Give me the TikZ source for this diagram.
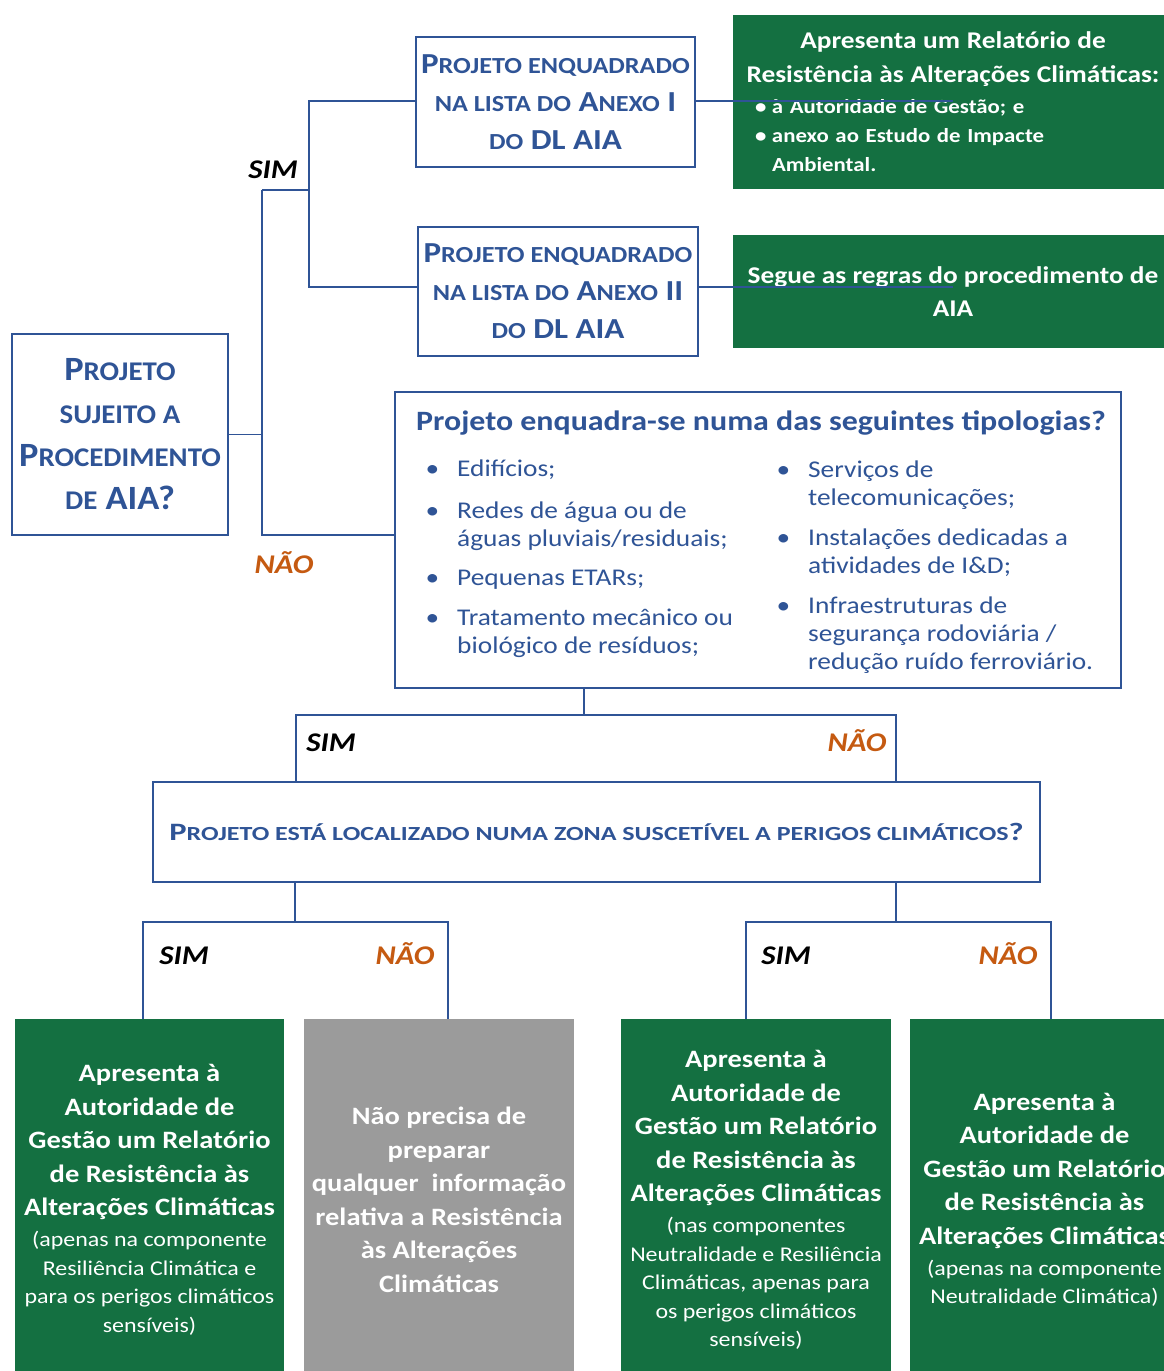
\documentclass[tikz,border=0pt]{standalone}
\usepackage{fontspec}
\setmainfont{Carlito}[FakeStretch=1.14]
\newfontfamily\afont{Carlito}[FakeStretch=1.07]
\newfontfamily\qfont{Carlito}[FakeStretch=1.3]
\definecolor{ablue}{RGB}{47,84,150}
\definecolor{agreen}{RGB}{20,112,65}
\definecolor{agray}{RGB}{155,155,155}
\definecolor{aorange}{RGB}{197,90,17}
\newcommand\fsz[2]{\fontsize{#1}{#2}\selectfont}
\newcommand\lc[2]{{\fontsize{#1}{#1}\selectfont #2}}
\newcommand\bl[1]{{\fontsize{25}{28.5}\selectfont\bfseries #1}}
\newcommand\hd[1]{\makebox[440pt][c]{\fontsize{24}{29}\selectfont #1}}
\newcommand\gbul{\hspace*{22pt}\makebox[17pt][l]{\textbullet}}
\newcommand\tbul{\llap{\textbullet\hspace{18pt}}}
\begin{document}
\begin{tikzpicture}[x=1pt,y=-1pt,
  qbox/.style={draw=ablue,line width=1.6pt,fill=white,inner sep=0pt,align=center,text=ablue},
  gbox/.style={fill=agreen,inner sep=0pt,align=center,text=white},
  ybox/.style={fill=agray,inner sep=0pt,align=center,text=white},
  conn/.style={draw=ablue,line width=1.6pt},
  lbl/.style={inner sep=0pt,text height=17.4pt,text depth=0pt,font=\fsz{27}{27}\bfseries\itshape},
  simlbl/.style={lbl,text=black},
  naolbl/.style={lbl,text=aorange},
  listtxt/.style={anchor=base west, inner sep=0pt, text=ablue, align=left, font=\fsz{24}{28}},
]
\useasboundingbox (0,0) rectangle (1164,1371);
\clip (0,0) rectangle (1164,1371);
\fill[white] (0,0) rectangle (1164,1371);

% top-left question
\node[qbox, minimum width=216, minimum height=201, font=\afont\fsz{34}{43}\bfseries] (A) at (120,434.5)
  {P\lc{27}{ROJETO}\\\lc{27}{SUJEITO A}\\P\lc{27}{ROCEDIMENTO}\\\lc{27}{DE} AIA?};

% annex boxes
\node[qbox, minimum width=279, minimum height=130, font=\fsz{29}{38}\bfseries] (B1) at (555.5,102)
  {P\lc{23}{ROJETO ENQUADRADO}\\\lc{23}{NA LISTA DO} A\lc{23}{NEXO} I\\\lc{23}{DO} DL AIA};
\node[qbox, minimum width=280, minimum height=129, font=\fsz{29}{38}\bfseries] (B2) at (558,291.5)
  {P\lc{23}{ROJETO ENQUADRADO}\\\lc{23}{NA LISTA DO} A\lc{23}{NEXO} II\\\lc{23}{DO} DL AIA};

% green outcome boxes (top)
\node[gbox, minimum width=440, minimum height=174, text width=440, align=left, font=\fsz{20}{29}\bfseries] (G1) at (953,102)
  {\hd{Apresenta um Relatório de}\\[5pt]\hd{Resistência às Alterações Climáticas:}\\[2pt]\gbul à Autoridade de Gestão; e\\\gbul anexo ao Estudo de Impacte\\\hspace*{39pt}Ambiental.};
\node[gbox, minimum width=440, minimum height=113, font=\fsz{24}{33}\bfseries] (G2) at (953,291.5)
  {Segue as regras do procedimento de\\AIA};

% typology box
\node[qbox, minimum width=726, minimum height=296] (T) at (758,540) {};
\node[anchor=base west, inner sep=0pt, text=ablue, font=\fsz{28}{28}\bfseries] (Tt) at (416,430)
  {Projeto enquadra-se numa das seguintes tipologias?};
\node[listtxt] (Tl) at (457,653)
  {\tbul Edifícios;\\[14pt]\tbul Redes de água ou de\\águas pluviais/residuais;\\[11pt]\tbul Pequenas ETARs;\\[12pt]\tbul Tratamento mecânico ou\\biológico de resíduos;};
\node[listtxt] (Tr) at (808,669)
  {\tbul Serviços de\\telecomunicações;\\[12pt]\tbul Instalações dedicadas a\\atividades de I\&D;\\[12pt]\tbul Infraestruturas de\\segurança rodoviária /\\redução ruído ferroviário.};

% climate question
\node[qbox, minimum width=887, minimum height=100, font=\qfont\fsz{25}{25}\bfseries] (Q) at (596.5,832)
  {P\lc{20}{ROJETO ESTÁ LOCALIZADO NUMA ZONA SUSCETÍVEL A PERIGOS CLIMÁTICOS}?};

% bottom outcome boxes
\node[gbox, minimum width=269, minimum height=362, font=\fsz{21}{28.5}] (L1) at (149.5,1200)
  {\bl{Apresenta à}\\[5pt]\bl{Autoridade de}\\[5pt]\bl{Gestão um Relatório}\\[5pt]\bl{de Resistência às}\\[5pt]\bl{Alterações Climáticas}\\[2.5pt](apenas na componente\\Resiliência Climática e\\para os perigos climáticos\\sensíveis)};
\node[ybox, minimum width=270, minimum height=362, font=\fsz{25}{33.5}\bfseries] (L2) at (439,1200)
  {Não precisa de\\preparar\\qualquer\ \ informação\\relativa a Resistência\\às Alterações\\Climáticas};
\node[gbox, minimum width=270, minimum height=362, font=\fsz{21}{28.5}] (R1) at (756,1200)
  {\bl{Apresenta à}\\[5pt]\bl{Autoridade de}\\[5pt]\bl{Gestão um Relatório}\\[5pt]\bl{de Resistência às}\\[5pt]\bl{Alterações Climáticas}\\[2.5pt](nas componentes\\Neutralidade e Resiliência\\Climáticas, apenas para\\os perigos climáticos\\sensíveis)};
\node[gbox, minimum width=269, minimum height=362, font=\fsz{21}{28.5}] (R2) at (1044.5,1200)
  {\bl{Apresenta à}\\[5pt]\bl{Autoridade de}\\[5pt]\bl{Gestão um Relatório}\\[5pt]\bl{de Resistência às}\\[5pt]\bl{Alterações Climáticas}\\[2.5pt](apenas na componente\\Neutralidade Climática)};

% junction coordinates
\coordinate (jt) at (262,190);
\coordinate (jb) at (262,535);
\coordinate (kt) at (309,101);
\coordinate (km) at (309,190);
\coordinate (kb) at (309,287);
\coordinate (tb) at (584,715);
\coordinate (bl) at (296,715);
\coordinate (br) at (896,715);
\coordinate (cl) at (295,922);
\coordinate (cr) at (896,922);
\coordinate (l1) at (143,922);
\coordinate (l2) at (448,922);
\coordinate (r1) at (746,922);
\coordinate (r2) at (1051,922);

% connectors
\draw[conn] (A.east) -- (A.east -| jt);
\draw[conn] (jt) -- (jb) -- (T.west |- jb);
\draw[conn] (jt) -- (km);
\draw[conn] (B1.west |- kt) -- (kt) -- (kb) -- (B2.west |- kb);
\draw[conn] (B1.east |- kt) -- (kt -| G1.center);
\draw[conn] (B2.east |- kb) -- (kb -| G2.center);
\draw[conn] (T.south -| tb) -- (tb);
\draw[conn] (Q.north -| bl) -- (bl) -- (br) -- (Q.north -| br);
\draw[conn] (Q.south -| cl) -- (cl);
\draw[conn] (Q.south -| cr) -- (cr);
\draw[conn] (L1.north -| l1) -- (l1) -- (l2) -- (L2.north -| l2);
\draw[conn] (R1.north -| r1) -- (r1) -- (r2) -- (R2.north -| r2);

% labels
\node[simlbl] (s1) at (273,170) {SIM};
\node[naolbl] (n1) at (284,565) {NÃO};
\node[simlbl] (s2) at (331,743) {SIM};
\node[naolbl] (n2) at (857,743) {NÃO};
\node[simlbl] (s3) at (184,956) {SIM};
\node[naolbl] (n3) at (405,956) {NÃO};
\node[simlbl] (s4) at (786,956) {SIM};
\node[naolbl] (n4) at (1008,956) {NÃO};
\end{tikzpicture}
\end{document}
